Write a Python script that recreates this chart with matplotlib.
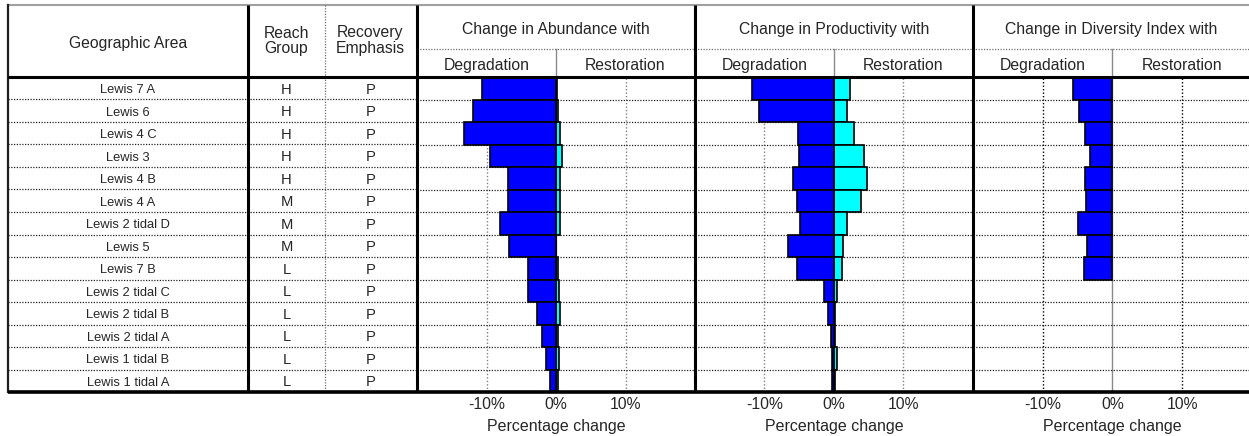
import matplotlib
matplotlib.use('Agg')
import matplotlib.pyplot as plt
from matplotlib.transforms import blended_transform_factory

plt.rcParams['font.family'] = ['Liberation Sans', 'DejaVu Sans']

# ---------------- data ----------------
areas = ["Lewis 7 A", "Lewis 6", "Lewis 4 C", "Lewis 3", "Lewis 4 B", "Lewis 4 A",
         "Lewis 2 tidal D", "Lewis 5", "Lewis 7 B", "Lewis 2 tidal C", "Lewis 2 tidal B",
         "Lewis 2 tidal A", "Lewis 1 tidal B", "Lewis 1 tidal A"]
reach_group = ["H", "H", "H", "H", "H", "M", "M", "M", "L", "L", "L", "L", "L", "L"]
recovery_emphasis = ["P"] * 14

abund_deg = [-10.7, -12.0, -13.2, -9.5, -6.9, -6.9, -8.0, -6.8, -4.1, -4.0, -2.7, -2.0, -1.5, -0.8]
abund_res = [0.1, 0.3, 0.6, 0.9, 0.6, 0.6, 0.6, 0.05, 0.3, 0.4, 0.6, 0.3, 0.4, 0.3]
prod_deg = [-11.8, -10.8, -5.2, -5.0, -5.9, -5.3, -4.9, -6.6, -5.3, -1.5, -0.8, -0.4, -0.3, -0.3]
prod_res = [2.3, 1.9, 2.9, 4.3, 4.7, 3.9, 1.8, 1.3, 1.2, 0.5, 0.2, 0.2, 0.45, 0.2]
div_deg = [-5.7, -4.8, -4.0, -3.2, -4.0, -3.8, -5.0, -3.7, -4.1, 0, 0, 0, 0, 0]
div_res = [0] * 14

panel_titles = ["Change in Abundance with", "Change in Productivity with",
                "Change in Diversity Index with"]
sub_titles = ["Degradation", "Restoration"]
tick_vals = [-10, 0, 10]
tick_labels = ["-10%", "0%", "10%"]
x_label = "Percentage change"

# ---------------- layout (pixels) ----------------
W, H = 1249, 436
fig = plt.figure(figsize=(W / 100, H / 100), dpi=100)
fig.patch.set_facecolor('white')

TOP, HDR_MID, HDR_BOT, BOT = 5, 49, 77, 392
LEFT = 8
COL_GEO, COL_REACH, COL_REC = 248, 325, 416
n = len(areas)
row_h = (BOT - HDR_BOT) / n

panels = [(417, 695, (-20, 20)), (695, 973, (-20, 20)), (973, 1249, (-20, 19.6))]
series = [(abund_deg, abund_res), (prod_deg, prod_res), (div_deg, div_res)]

ov = fig.add_axes([0, 0, 1, 1], zorder=10)
ov.set_xlim(0, W)
ov.set_ylim(H, 0)
ov.axis('off')

txt_col = '#262626'
BLUE = '#0000ff'
CYAN = '#00ffff'


def nonzero(vals):
    idx = [i for i, v in enumerate(vals) if v != 0]
    return idx, [vals[i] for i in idx]


for pi, ((x0, x1, xl), (deg, res)) in enumerate(zip(panels, series)):
    ax = fig.add_axes([x0 / W, 1 - BOT / H, (x1 - x0) / W, (BOT - HDR_BOT) / H], zorder=5)
    ax.set_xlim(*xl)
    ax.set_ylim(n - 0.5, -0.5)
    ax.set_facecolor('white')
    for s in ax.spines.values():
        s.set_visible(False)
    ax.set_xticks([])
    ax.set_yticks([])
    grid_col = '#000000' if pi == 2 else '#808080'
    for v in (-10, 10):
        ax.axvline(v, color=grid_col, ls=(0, (1, 1.5)), lw=1.0, zorder=0.5)
    ax.axvline(0, color='#8a8a8a', lw=1.0, zorder=0.6)
    for i in range(n - 1):
        ax.axhline(i + 0.5, color='#222222', ls=(0, (1, 1.2)), lw=0.9, zorder=0.7)
    yr, vr = nonzero(res)
    yd, vd = nonzero(deg)
    if vr:
        ax.barh(yr, vr, height=1.0, left=0, color=CYAN, edgecolor='black', lw=1.2, zorder=2)
    if vd:
        ax.barh(yd, vd, height=1.0, left=0, color=BLUE, edgecolor='black', lw=1.2, zorder=2)

    tr = blended_transform_factory(ax.transData, ov.transData)
    # header
    ov.text((x0 + x1) / 2, 34, panel_titles[pi], ha='center', va='baseline',
            fontsize=11.3, color=txt_col)
    ov.text(-10, 70, sub_titles[0], transform=tr, ha='center', va='baseline',
            fontsize=11.3, color=txt_col)
    ov.text(10, 70, sub_titles[1], transform=tr, ha='center', va='baseline',
            fontsize=11.3, color=txt_col)
    ov.plot([0, 0], [HDR_MID, HDR_BOT], transform=tr, color='#8a8a8a', lw=1.0)
    # ticks
    for v, lab in zip(tick_vals, tick_labels):
        ov.text(v, 409, lab, transform=tr, ha='center', va='baseline',
                fontsize=11.3, color=txt_col)
    ov.text(0, 431, x_label, transform=tr, ha='center', va='baseline',
            fontsize=11.5, color=txt_col)

# ---------------- table lines ----------------
ov.plot([LEFT, W], [TOP, TOP], color='#a0a0a0', lw=1.5)
ov.plot([417, W], [HDR_MID, HDR_MID], color='#707070', ls=(0, (1, 1.2)), lw=0.9)
for i in range(1, n):
    yy = HDR_BOT + i * row_h
    ov.plot([LEFT, COL_REC], [yy, yy], color='#222222', ls=(0, (1, 1.2)), lw=0.9)
ov.plot([COL_REACH, COL_REACH], [TOP, BOT], color='#707070', ls=(0, (1, 1.2)), lw=0.9)
ov.plot([LEFT, LEFT], [TOP, BOT], color='#202020', lw=1.6)
for xx in (COL_GEO, COL_REC + 1, 695, 973):
    ov.plot([xx, xx], [TOP, BOT], color='black', lw=2.2, solid_capstyle='butt')
ov.plot([LEFT, W], [HDR_BOT, HDR_BOT], color='black', lw=2.2, solid_capstyle='butt')
ov.plot([LEFT, W], [BOT, BOT], color='black', lw=2.6, solid_capstyle='butt')

# ---------------- table text ----------------
ov.text((LEFT + COL_GEO) / 2, 48, "Geographic Area", ha='center', va='baseline',
        fontsize=11.3, color=txt_col)
ov.text((COL_GEO + COL_REACH) / 2, 37.5, "Reach", ha='center', va='baseline',
        fontsize=11.3, color=txt_col)
ov.text((COL_GEO + COL_REACH) / 2, 53.5, "Group", ha='center', va='baseline',
        fontsize=11.3, color=txt_col)
ov.text((COL_REACH + COL_REC) / 2, 37.5, "Recovery", ha='center', va='baseline',
        fontsize=11.3, color=txt_col)
ov.text((COL_REACH + COL_REC) / 2, 53.5, "Emphasis", ha='center', va='baseline',
        fontsize=11.3, color=txt_col)

for i in range(n):
    yc = HDR_BOT + (i + 0.5) * row_h
    ov.text((LEFT + COL_GEO) / 2, yc + 4.8, areas[i], ha='center', va='baseline',
            fontsize=9.3, color=txt_col)
    ov.text((COL_GEO + COL_REACH) / 2, yc + 5.3, reach_group[i], ha='center',
            va='baseline', fontsize=10.6, color=txt_col)
    ov.text((COL_REACH + COL_REC) / 2, yc + 5.3, recovery_emphasis[i], ha='center',
            va='baseline', fontsize=10.6, color=txt_col)

fig.savefig('out.png', dpi=100, facecolor='white')
